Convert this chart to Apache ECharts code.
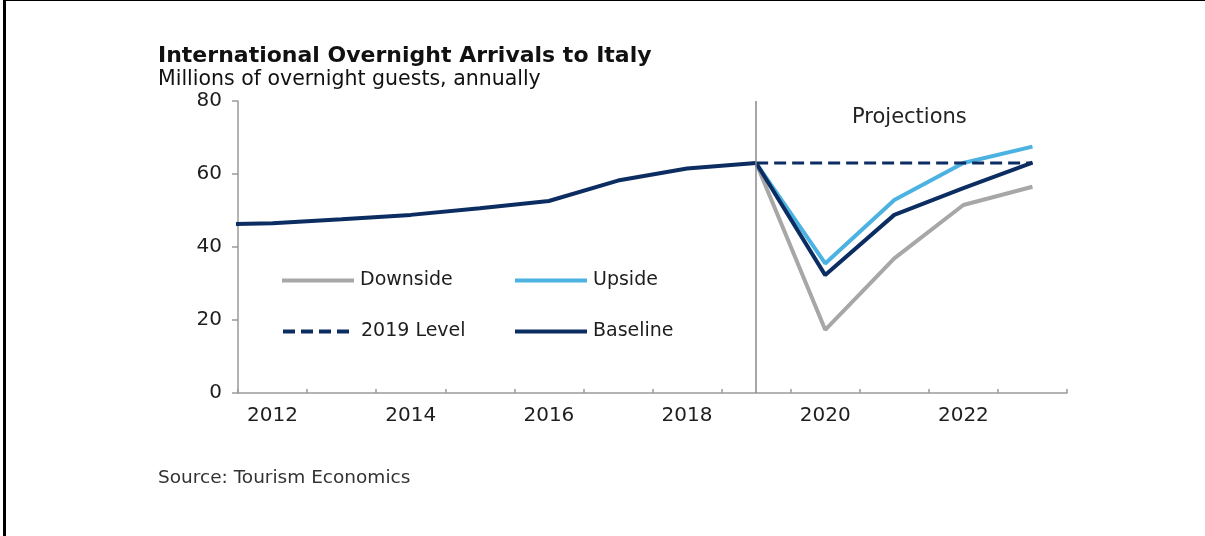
<!DOCTYPE html>
<html>
<head>
<meta charset="utf-8">
<script src="https://cdn.jsdelivr.net/npm/echarts@6/dist/echarts.min.js"></script>
<style>
  html, body { margin: 0; padding: 0; background: #fff; }
  #frame { position: absolute; left: 3px; top: 0; width: 1202px; height: 536px;
           border-left: 3px solid #000; border-top: 1px solid #000; box-sizing: border-box; }
  #myEcharts { position: absolute; left: 0; top: 0; width: 1205px; height: 536px; }
</style>
</head>
<body>
<div id="frame"></div>
<div id="myEcharts"></div>
<script>
// actual data (2011 point only sets where the line enters the plot)
const histYears = [2011, 2012, 2013, 2014, 2015, 2016, 2017, 2018, 2019];
const histValues = [46.1, 46.5, 47.6, 48.8, 50.6, 52.6, 58.2, 61.5, 63.0];

// projections
const projYears = [2019, 2020, 2021, 2022, 2023];
const downside = [63.0, 17.3, 36.9, 51.5, 56.5];
const upside = [63.0, 35.5, 52.9, 63.0, 67.5];
const baseline = [63.0, 32.3, 48.8, 56.1, 63.1];
const level2019 = [63.0, 63.0, 63.0, 63.0, 63.0];

// axis
const yearLabels = [2012, 2014, 2016, 2018, 2020, 2022];
const yearBounds = [2011.5, 2012.5, 2013.5, 2014.5, 2015.5, 2016.5, 2017.5, 2018.5, 2019.5, 2020.5, 2021.5, 2022.5, 2023.5];

const NAVY = '#0c2d62';
const LIGHT = '#4bb2e2';
const GREY = '#a7a7a7';
const FONT = 'DejaVu Sans';

function pairs (xs, ys) {
    return xs.map(function (x, i) { return [x, ys[i]]; });
}

let chartDom = document.getElementById('myEcharts');
let myChart = echarts.init(chartDom, null, { renderer: 'canvas' });

function legendAt (name, left, top, lineType) {
    return {
        data: [name],
        left: left,
        top: top,
        padding: 0,
        itemWidth: 72,
        itemHeight: 14,
        itemGap: 0,
        itemStyle: { opacity: 0 },
        lineStyle: { width: 4, type: lineType || 'solid' },
        textStyle: { fontFamily: FONT, fontSize: 19, color: '#1e1e1e', padding: [0, 0, 0, 1] },
        selectedMode: false
    };
}

let option = {
    animation: false,
    textStyle: { fontFamily: FONT },
    grid: { left: 238, right: 138, top: 101, bottom: 143 },
    graphic: [
        { type: 'text', left: 158, top: 45,
          style: { text: 'International Overnight Arrivals to Italy', font: 'bold 22px "DejaVu Sans"', fill: '#111' } },
        { type: 'text', left: 158, top: 69,
          style: { text: 'Millions of overnight guests, annually', font: '20.5px "DejaVu Sans"', fill: '#111' } },
        { type: 'text', left: 158, top: 469,
          style: { text: 'Source: Tourism Economics', font: '18.5px "DejaVu Sans"', fill: '#333' } },
        { type: 'text', left: 852, top: 107,
          style: { text: 'Projections', font: '21px "DejaVu Sans"', fill: '#222' } }
    ],
    legend: [
        legendAt('Downside', 280, 271),
        legendAt('Upside', 513, 271),
        legendAt('2019 Level', 281, 322, [12, 6]),
        legendAt('Baseline', 513, 322)
    ],
    xAxis: {
        type: 'value',
        min: 2011.5,
        max: 2023.5,
        splitLine: { show: false },
        axisLine: { lineStyle: { color: '#9a9a9a', width: 1.5 } },
        axisTick: { show: true, inside: true, length: 4, customValues: yearBounds,
                    lineStyle: { color: '#9a9a9a', width: 1.5 } },
        axisLabel: { customValues: yearLabels, fontFamily: FONT, fontSize: 20, color: '#1e1e1e', margin: 13,
                     formatter: function (v) { return String(v); } }
    },
    yAxis: {
        type: 'value',
        min: 0,
        max: 80,
        interval: 20,
        splitLine: { show: false },
        axisLine: { show: true, lineStyle: { color: '#9a9a9a', width: 1.5 } },
        axisTick: { show: true, length: 6, lineStyle: { color: '#9a9a9a', width: 1.5 } },
        axisLabel: { fontFamily: FONT, fontSize: 20, color: '#1e1e1e', margin: 16 }
    },
    series: [
        {
            name: 'Downside', type: 'line', data: pairs(projYears, downside),
            symbol: 'none', lineStyle: { color: GREY, width: 4 }, itemStyle: { color: GREY }
        },
        {
            name: 'Upside', type: 'line', data: pairs(projYears, upside),
            symbol: 'none', lineStyle: { color: LIGHT, width: 4 }, itemStyle: { color: LIGHT }
        },
        {
            name: 'Baseline', type: 'line', data: pairs(projYears, baseline),
            symbol: 'none', lineStyle: { color: NAVY, width: 4 }, itemStyle: { color: NAVY }
        },
        {
            name: '2019 Level', type: 'line', data: pairs(projYears, level2019),
            symbol: 'none', lineStyle: { color: NAVY, width: 3, type: [12, 6] }, itemStyle: { color: NAVY }
        },
        {
            name: 'Actual', type: 'line', data: pairs(histYears, histValues),
            symbol: 'none', clip: true, lineStyle: { color: NAVY, width: 4 }, itemStyle: { color: NAVY },
            markLine: {
                silent: true,
                symbol: ['none', 'none'],
                label: { show: false },
                lineStyle: { color: '#8a8a8a', width: 1.5, type: 'solid' },
                data: [{ xAxis: 2019 }]
            }
        }
    ]
};

option && myChart.setOption(option);
</script>
</body>
</html>
